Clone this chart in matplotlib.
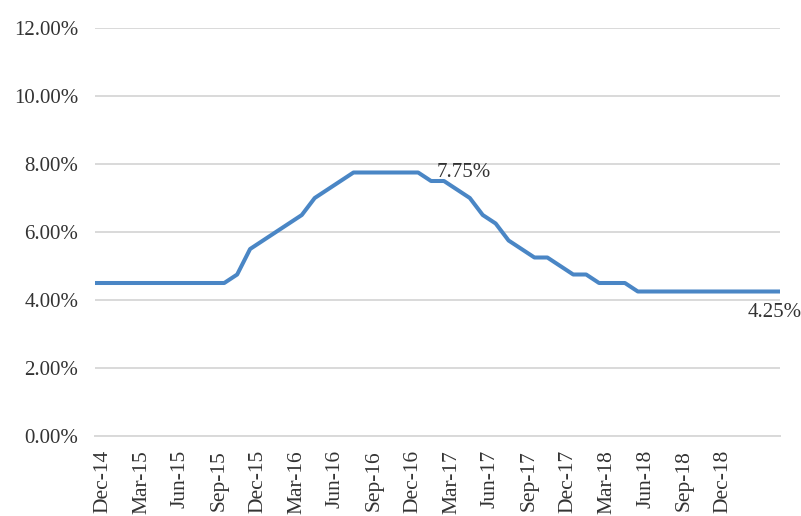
import numpy as np
import matplotlib
matplotlib.use("Agg")
import matplotlib.pyplot as plt

# monthly policy rate, Dec-14 .. May-19 (%)
rate = [4.5] * 11 + [4.75, 5.5, 5.75, 6.0, 6.25, 6.5, 7.0, 7.25, 7.5] \
    + [7.75] * 6 + [7.5, 7.5, 7.25, 7.0, 6.5, 6.25, 5.75, 5.5, 5.25, 5.25,
                    5.0, 4.75, 4.75, 4.5, 4.5, 4.5] + [4.25] * 12

tick_labels = ["Dec-14", "Mar-15", "Jun-15", "Sep-15", "Dec-15", "Mar-16",
               "Jun-16", "Sep-16", "Dec-16", "Mar-17", "Jun-17", "Sep-17",
               "Dec-17", "Mar-18", "Jun-18", "Sep-18", "Dec-18"]

peak_idx = 25
last_idx = len(rate) - 1

plt.rcParams["font.family"] = ["Liberation Serif", "DejaVu Serif"]
text_color = "#333333"

fig = plt.figure(figsize=(8.01, 5.16), dpi=100)
ax = fig.add_axes([95 / 801, 80 / 516, 685 / 801, 408 / 516])

x = np.arange(len(rate))
ax.plot(x, rate, color="#4a86c5", lw=2.9, solid_joinstyle="round", zorder=3)

ax.set_xlim(0, last_idx)
ax.set_ylim(0, 12)
ax.set_yticks(np.arange(0, 12.1, 2))
ax.set_yticklabels([f"{v:.2f}%" for v in np.arange(0, 12.1, 2)],
                   fontsize=15, color=text_color)
ax.yaxis.grid(True, color="#d9d9d9", lw=1.4)
ax.set_axisbelow(True)

# labels sit slightly right of each category point, as in the source
ax.set_xticks(np.arange(0, len(tick_labels) * 3, 3) + 0.6)
ax.set_xticklabels(tick_labels, rotation=90, fontsize=15.5, color=text_color)

ax.tick_params(axis="y", length=0, pad=12)
ax.tick_params(axis="x", length=0, pad=10)
for s in ["left", "right", "top"]:
    ax.spines[s].set_visible(False)
ax.spines["bottom"].set_color("#d9d9d9")
ax.spines["bottom"].set_linewidth(1.4)

ax.annotate(f"{rate[peak_idx]:.2f}%", xy=(peak_idx, rate[peak_idx]),
            xytext=(13, 0), textcoords="offset points", ha="left",
            va="center", fontsize=15, color=text_color)
ax.annotate(f"{rate[last_idx]:.2f}%", xy=(last_idx, rate[last_idx]),
            xytext=(-4, -15), textcoords="offset points", ha="center",
            va="center", fontsize=15, color=text_color, annotation_clip=False)

fig.savefig("out.png", dpi=100)
